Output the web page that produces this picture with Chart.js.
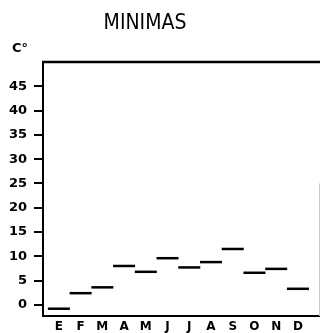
<!DOCTYPE html>
<html>
<head>
<meta charset="utf-8">
<title>MINIMAS</title>
<script src="https://cdn.jsdelivr.net/npm/chart.js@4.4.1/dist/chart.umd.min.js"></script>
<style>
  body { margin: 0; background: #fff; }
  #wrap { width: 320px; height: 333px; position: relative; }
</style>
</head>
<body>
<div id="wrap"><canvas id="myChart" width="320" height="333"></canvas></div>
<script>
// monthly minimum temperatures (C°)
const months = ['E', 'F', 'M', 'A', 'M', 'J', 'J', 'A', 'S', 'O', 'N', 'D'];
const minimas = [-0.8, 2.4, 3.6, 8.0, 6.8, 9.6, 7.7, 8.8, 11.5, 6.6, 7.4, 3.3];
const yTicks = [0, 5, 10, 15, 20, 25, 30, 35, 40, 45];
const titleText = 'MINIMAS';
const unitText = 'C°';

let points = minimas.map((v, i) => ({ x: i, y: v }));

// title, unit and the box round the plot
const framePlugin = {
  id: 'frame',
  afterDraw(chart) {
    const ctx = chart.ctx;
    const a = chart.chartArea;
    ctx.save();
    // top line
    ctx.strokeStyle = '#000';
    ctx.lineWidth = 2.5;
    ctx.beginPath();
    ctx.moveTo(a.left - 1, a.top);
    ctx.lineTo(chart.width, a.top);
    ctx.stroke();
    // faint right side
    ctx.strokeStyle = '#c8c8c8';
    ctx.lineWidth = 1;
    ctx.beginPath();
    ctx.moveTo(a.right + 0.5, chart.scales.y.getPixelForValue(25));
    ctx.lineTo(a.right + 0.5, a.bottom);
    ctx.stroke();

    ctx.fillStyle = '#000';
    ctx.textAlign = 'center';
    ctx.textBaseline = 'alphabetic';
    ctx.font = '21px "Liberation Sans Narrow", "DejaVu Sans Condensed", sans-serif';
    ctx.fillText(titleText, a.left + 102, 29);
    ctx.font = 'bold 13px "DejaVu Sans", sans-serif';
    ctx.fillText(unitText, 20, 52);
    ctx.restore();
  }
};

var ctx = document.getElementById('myChart').getContext('2d');
var chart = new Chart(ctx, {
  type: 'scatter',
  data: {
    datasets: [{
      label: titleText,
      data: points,
      pointStyle: 'line',
      pointRadius: 11,
      pointHoverRadius: 11,
      borderColor: '#000',
      backgroundColor: '#000',
      borderWidth: 2.5,
      showLine: false
    }]
  },
  options: {
    responsive: false,
    animation: false,
    layout: { autoPadding: false, padding: { top: 62, right: 1, left: 0, bottom: 0 } },
    plugins: {
      legend: { display: false },
      tooltip: { enabled: false },
      title: { display: false }
    },
    scales: {
      x: {
        type: 'linear',
        min: -0.73,
        max: 11.97,
        afterBuildTicks: (scale) => { scale.ticks = months.map((m, i) => ({ value: i })); },
        afterFit: (scale) => {
          scale.height = 17;
          scale.paddingLeft = 0;
          scale.paddingRight = 0;
        },
        grid: { display: false, drawTicks: false },
        border: { display: true, color: '#000', width: 2 },
        ticks: {
          autoSkip: false,
          maxRotation: 0,
          padding: 4,
          color: '#000',
          font: { family: 'DejaVu Sans', size: 12, weight: 'bold' },
          callback: (v) => months[v]
        }
      },
      y: {
        min: -2.3,
        max: 50,
        afterBuildTicks: (scale) => { scale.ticks = yTicks.map(v => ({ value: v })); },
        afterFit: (scale) => { scale.width = 43; },
        grid: {
          drawOnChartArea: false,
          drawTicks: true,
          tickLength: 9,
          color: '#000',
          lineWidth: 2
        },
        border: { display: true, color: '#000', width: 2 },
        ticks: {
          padding: 7,
          color: '#000',
          font: { family: 'DejaVu Sans', size: 13, weight: 'bold' }
        }
      }
    }
  },
  plugins: [framePlugin]
});
</script>
</body>
</html>
